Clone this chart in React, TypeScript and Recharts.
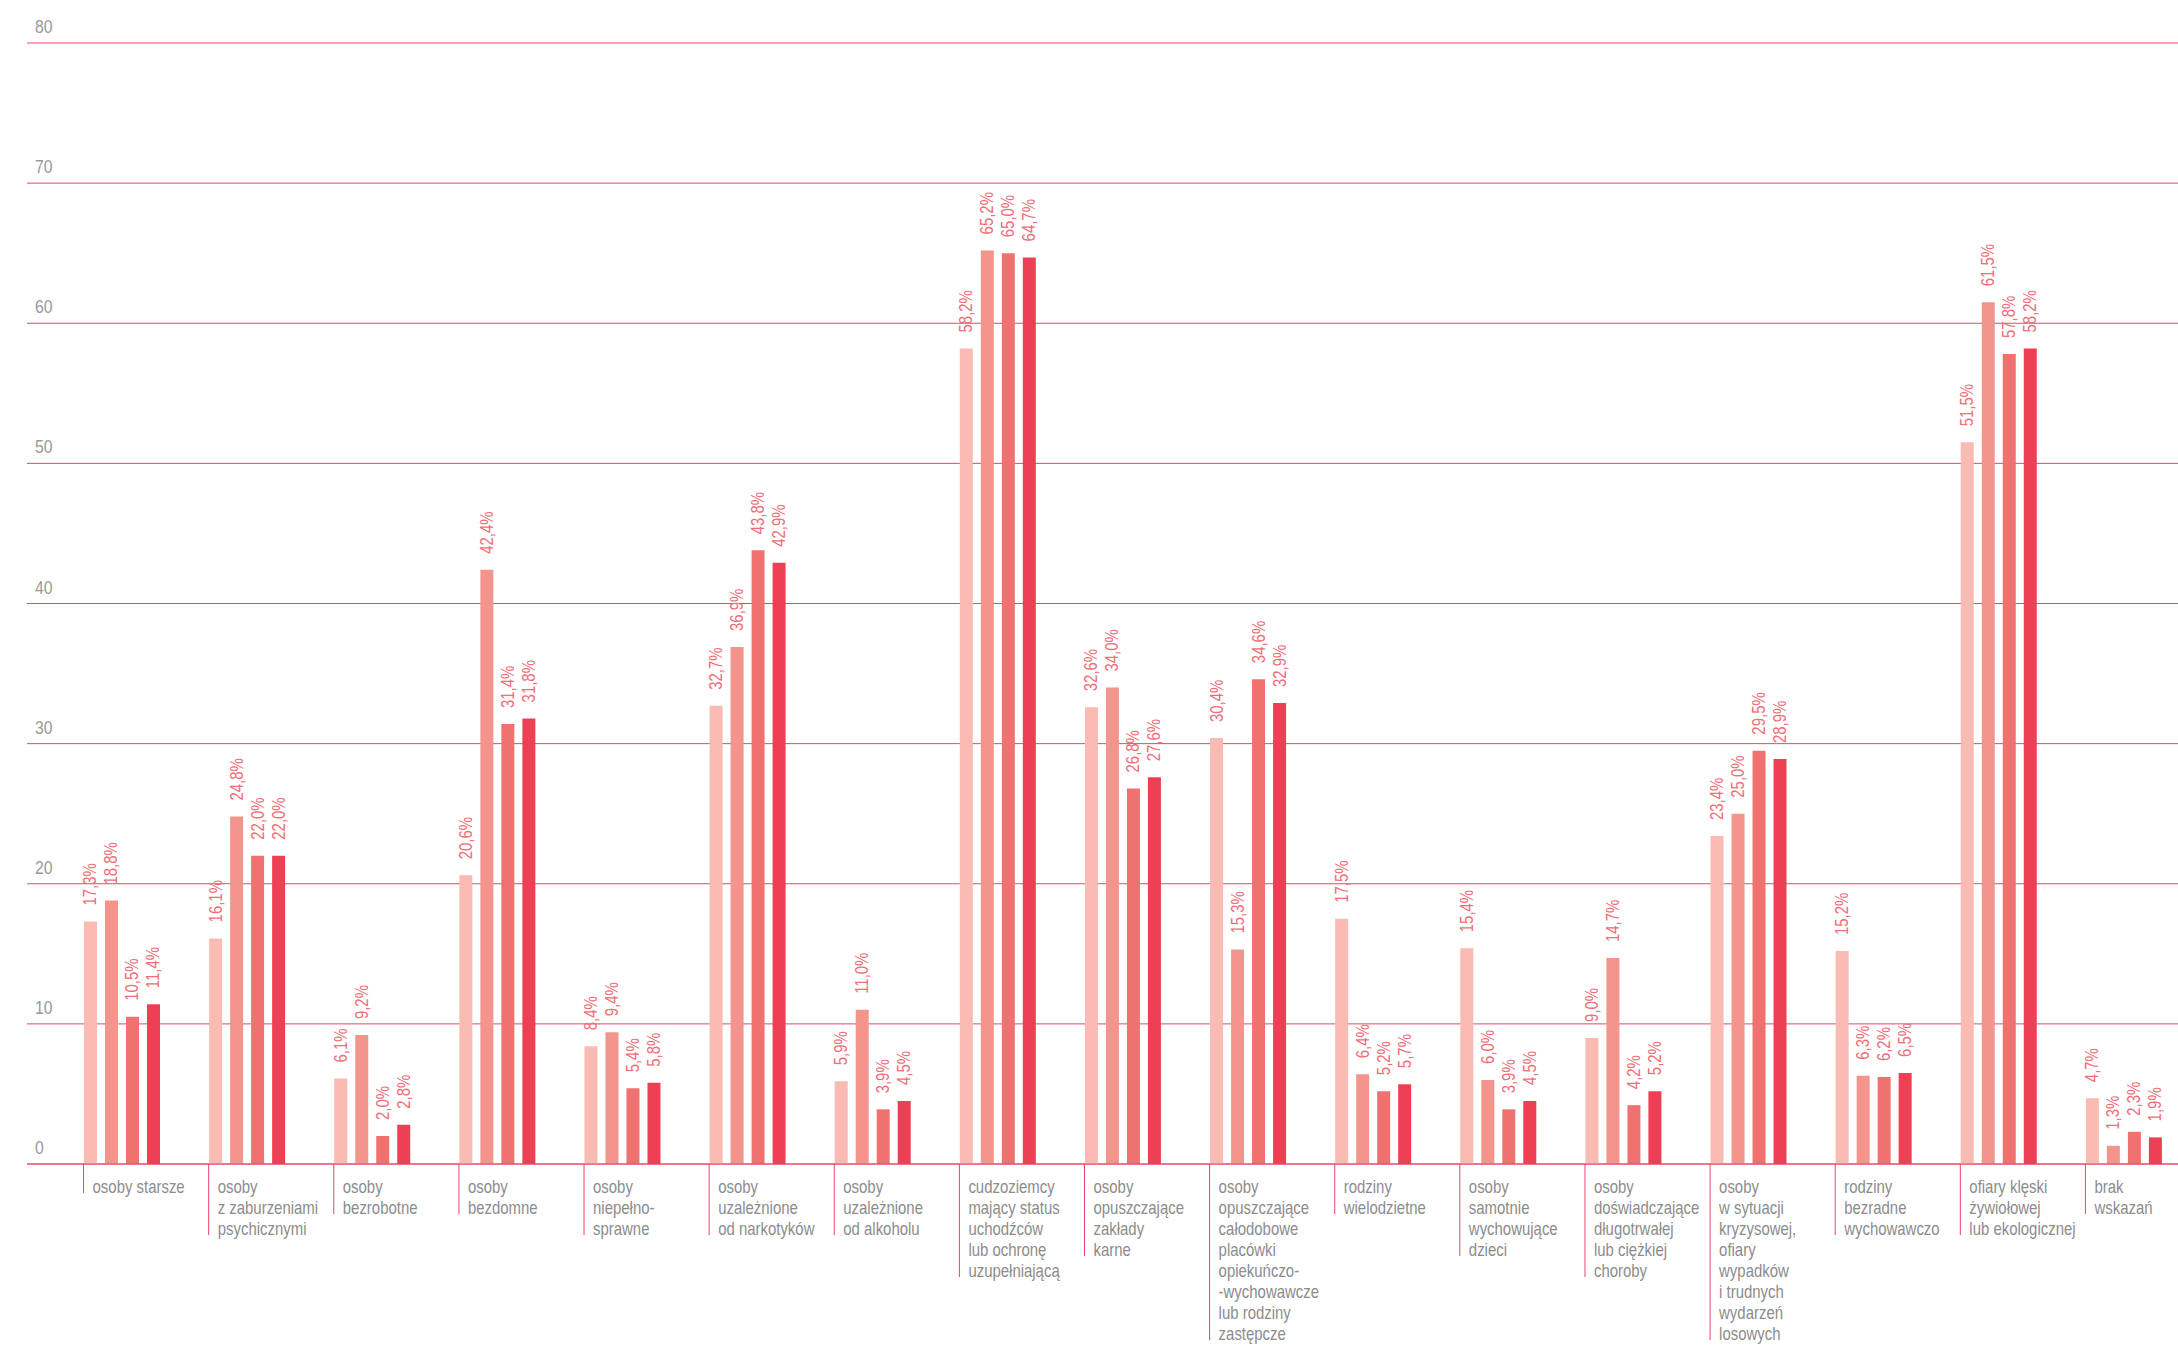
import { Bar, BarChart, CartesianGrid, LabelList, XAxis, YAxis } from "recharts";

const categories = [
  "osoby starsze",
  "osoby\nz zaburzeniami\npsychicznymi",
  "osoby\nbezrobotne",
  "osoby\nbezdomne",
  "osoby\nniepełno-\nsprawne",
  "osoby\nuzależnione\nod narkotyków",
  "osoby\nuzależnione\nod alkoholu",
  "cudzoziemcy\nmający status\nuchodźców\nlub ochronę\nuzupełniającą",
  "osoby\nopuszczające\nzakłady\nkarne",
  "osoby\nopuszczające\ncałodobowe\nplacówki\nopiekuńczo-\n-wychowawcze\nlub rodziny\nzastępcze",
  "rodziny\nwielodzietne",
  "osoby\nsamotnie\nwychowujące\ndzieci",
  "osoby\ndoświadczające\ndługotrwałej\nlub ciężkiej\nchoroby",
  "osoby\nw sytuacji\nkryzysowej,\nofiary\nwypadków\ni trudnych\nwydarzeń\nlosowych",
  "rodziny\nbezradne\nwychowawczo",
  "ofiary klęski\nżywiołowej\nlub ekologicznej",
  "brak\nwskazań",
];

const series1 = [17.3, 16.1, 6.1, 20.6, 8.4, 32.7, 5.9, 58.2, 32.6, 30.4, 17.5, 15.4, 9.0, 23.4, 15.2, 51.5, 4.7];
const series2 = [18.8, 24.8, 9.2, 42.4, 9.4, 36.9, 11.0, 65.2, 34.0, 15.3, 6.4, 6.0, 14.7, 25.0, 6.3, 61.5, 1.3];
const series3 = [10.5, 22.0, 2.0, 31.4, 5.4, 43.8, 3.9, 65.0, 26.8, 34.6, 5.2, 3.9, 4.2, 29.5, 6.2, 57.8, 2.3];
const series4 = [11.4, 22.0, 2.8, 31.8, 5.8, 42.9, 4.5, 64.7, 27.6, 32.9, 5.7, 4.5, 5.2, 28.9, 6.5, 58.2, 1.9];

const yTicks = [0, 10, 20, 30, 40, 50, 60, 70, 80];

const colors = ["#f9bbb4", "#f3958c", "#f07270", "#ee4054"];
const keys = ["s1", "s2", "s3", "s4"];

const data = categories.map((name, i) => ({
  name,
  s1: series1[i],
  s2: series2[i],
  s3: series3[i],
  s4: series4[i],
}));

// no condensed face installed, so Liberation Sans squeezed horizontally
const font = "'Liberation Sans', Arial, sans-serif";
const squeeze = 0.83;
const gridColor = "#ec4468";

const fmt = (v: number) => v.toFixed(1).replace(".", ",") + "%";

function ValueLabel(props: any) {
  const { x, y, width, value } = props;
  const cx = Number(x) + Number(width) / 2;
  const cy = Number(y) - 16;
  return (
    <text
      transform={`translate(${cx}, ${cy}) rotate(-90) scale(${squeeze}, 1)`}
      textAnchor="start"
      dominantBaseline="central"
      fontFamily={font}
      fontSize={18}
      fill="#f06e78"
    >
      {fmt(Number(value))}
    </text>
  );
}

function CategoryTick(props: any) {
  const { x, y, payload } = props;
  const lines = String(payload.value).split("\n");
  const lx = x - 38;
  return (
    <g>
      <line x1={lx} y1={y} x2={lx} y2={y + 29 + (lines.length - 1) * 21} stroke={gridColor} strokeWidth={1} />
      <text transform={`translate(${lx + 9}, ${y + 29}) scale(${squeeze}, 1)`} fontFamily={font} fontSize={18} fill="#8c8c8c">
        {lines.map((l, i) => (
          <tspan key={i} x={0} dy={i === 0 ? 0 : 21}>
            {l}
          </tspan>
        ))}
      </text>
    </g>
  );
}

function ValueTick(props: any) {
  const { y, payload } = props;
  return (
    <text transform={`translate(35, ${y - 10}) scale(${squeeze}, 1)`} fontFamily={font} fontSize={19} fill="#999999">
      {payload.value}
    </text>
  );
}

export default function App() {
  return (
    <div style={{ position: "absolute", left: 0, top: 0, width: 2178, height: 1348, overflow: "hidden", background: "#fff" }}>
      <BarChart
        width={2186}
        height={1348}
        data={data}
        margin={{ top: 43, right: 0, left: 0, bottom: 0 }}
        barSize={13}
        barGap={8}
      >
        <CartesianGrid horizontal vertical={false} stroke={gridColor} strokeWidth={1} />
        <XAxis
          dataKey="name"
          height={184}
          interval={0}
          padding={{ left: 32, right: 0 }}
          axisLine={{ stroke: gridColor }}
          tickLine={false}
          tickSize={0}
          tickMargin={0}
          tick={<CategoryTick />}
        />
        <YAxis
          width={27}
          domain={[0, 80]}
          ticks={yTicks}
          interval={0}
          axisLine={false}
          tickLine={false}
          tick={<ValueTick />}
        />
        {keys.map((k, i) => (
          <Bar key={k} dataKey={k} fill={colors[i]} isAnimationActive={false}>
            <LabelList dataKey={k} content={<ValueLabel />} />
          </Bar>
        ))}
      </BarChart>
    </div>
  );
}
